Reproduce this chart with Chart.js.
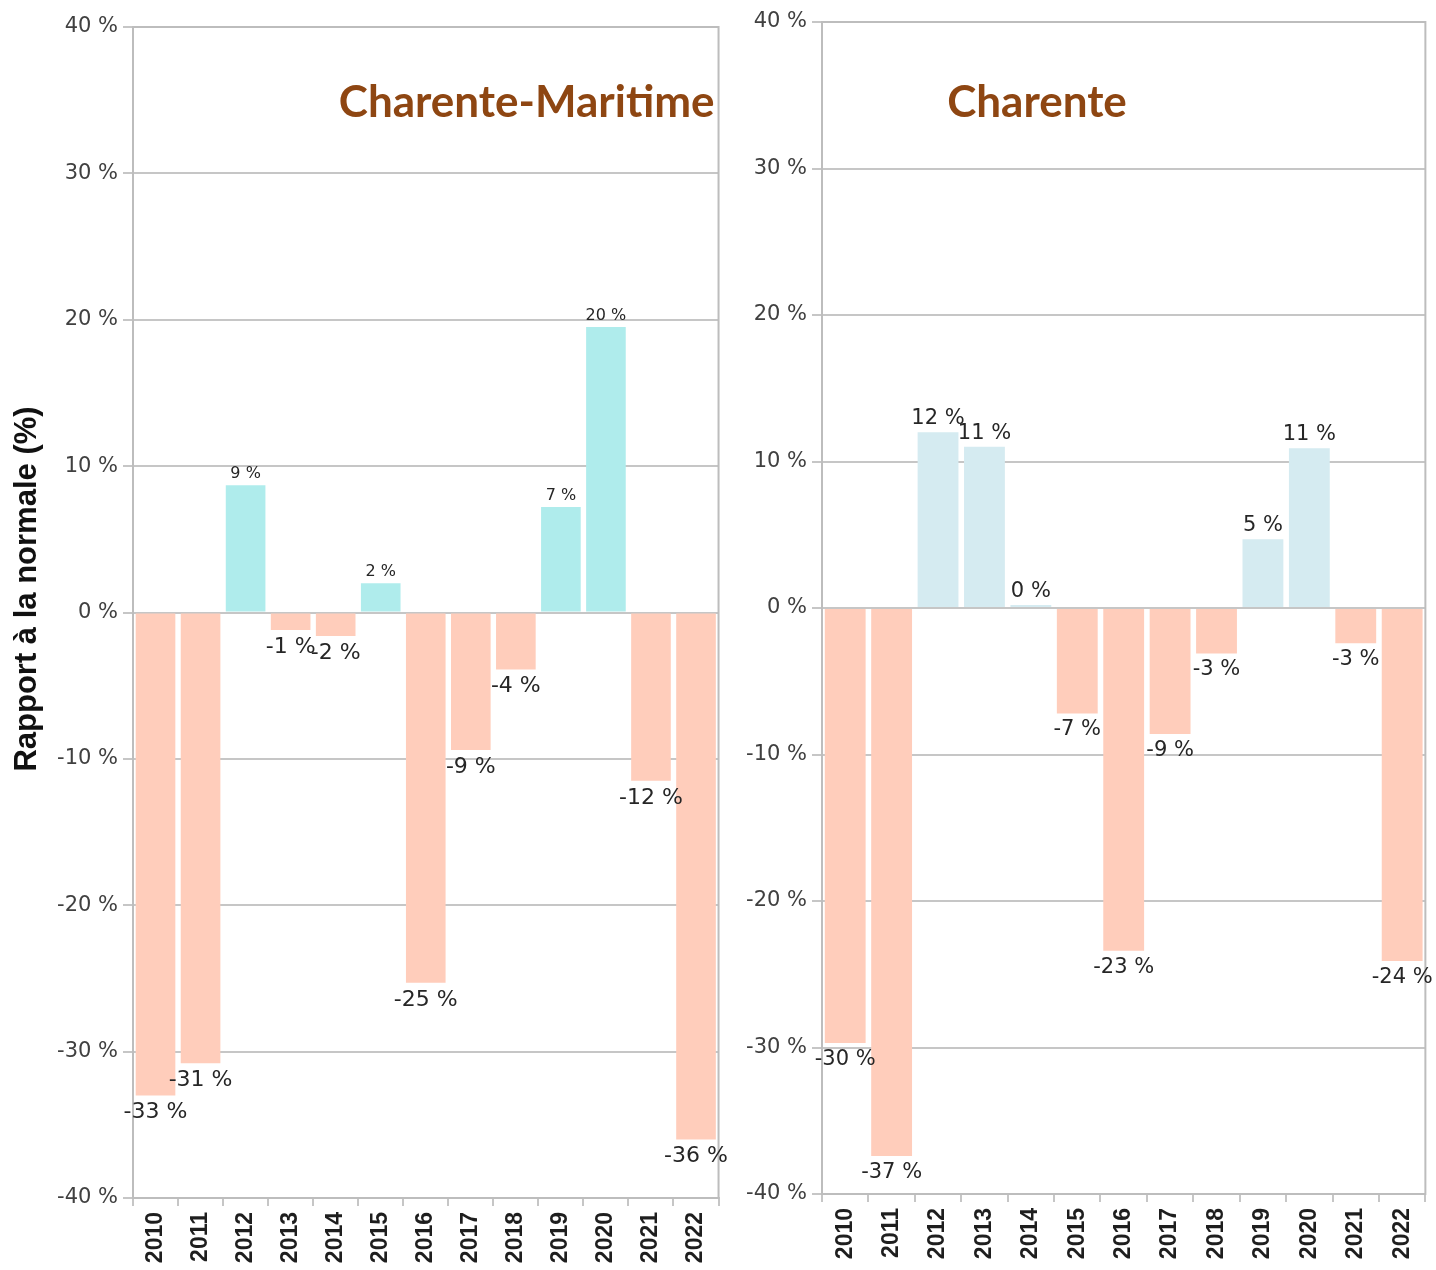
<!DOCTYPE html>
<html>
<head>
<meta charset="utf-8">
<script src="https://cdn.jsdelivr.net/npm/chart.js@4.4.1/dist/chart.umd.min.js"></script>
<style>
  body { margin: 0; background: #fff; }
  #left-box { position: absolute; left: 0; top: 0; width: 730px; height: 1270px; }
  #right-box { position: absolute; left: 730px; top: 0; width: 706px; height: 1270px; }
</style>
</head>
<body>
<div id="left-box"><canvas id="chart-cm"></canvas></div>
<div id="right-box"><canvas id="chart-ch"></canvas></div>
<script>
//data
const years = ['2010','2011','2012','2013','2014','2015','2016','2017','2018','2019','2020','2021','2022'];
const cmValues = [-33.0, -30.8, 8.7, -1.2, -1.6, 2.0, -25.3, -9.4, -3.9, 7.2, 19.5, -11.5, -36.0];
const cmLabels = ['-33 %','-31 %','9 %','-1 %','-2 %','2 %','-25 %','-9 %','-4 %','7 %','20 %','-12 %','-36 %'];
const chValues = [-29.7, -37.4, 12.0, 11.0, 0.2, -7.2, -23.4, -8.6, -3.1, 4.7, 10.9, -2.4, -24.1];
const chLabels = ['-30 %','-37 %','12 %','11 %','0 %','-7 %','-23 %','-9 %','-3 %','5 %','11 %','-3 %','-24 %'];
const yTicks = [-40, -30, -20, -10, 0, 10, 20, 30, 40];

const gridGrey = '#c6c6c6';
const salmon = '#ffcdbb';

//draws the frame round the plot, the value labels, the department name and the y title
const decorPlugin = {
    id: 'decor',
    afterDatasetsDraw(chart, args, opts) {
        const ctx = chart.ctx;
        const area = chart.chartArea;
        ctx.save();
        ctx.strokeStyle = '#bdbdbd';
        ctx.lineWidth = 2;
        ctx.strokeRect(area.left, area.top, area.right - area.left, area.bottom - area.top);
        const meta = chart.getDatasetMeta(0);
        const vals = chart.data.datasets[0].data;
        meta.data.forEach(function(bar, i) {
            ctx.fillStyle = '#262626';
            ctx.textAlign = 'center';
            if (vals[i] >= 0) {
                ctx.font = opts.posFont;
                ctx.textBaseline = 'bottom';
                ctx.fillText(opts.labels[i], bar.x, bar.y - 3);
            } else {
                ctx.font = opts.negFont;
                ctx.textBaseline = 'top';
                ctx.fillText(opts.labels[i], bar.x, bar.y + 6);
            }
        });
        ctx.font = 'bold 44px Lato';
        ctx.fillStyle = '#8e4612';
        ctx.textBaseline = 'middle';
        ctx.textAlign = opts.titleAlign;
        const tx = opts.titleAlign === 'right' ? area.right + opts.titleX : area.left + opts.titleX;
        ctx.fillText(opts.title, tx, 103);
        if (opts.yTitle) { //side title, a bit above the middle of the plot like the original
            ctx.translate(27, 589);
            ctx.rotate(-Math.PI / 2);
            ctx.font = 'bold 31px "Liberation Sans"';
            ctx.fillStyle = '#111';
            ctx.textAlign = 'center';
            ctx.fillText(opts.yTitle, 0, 0);
        }
        ctx.restore();
    }
};

function makeChart(canvasId, values, labels, posColour, cfg) {
    return new Chart(document.getElementById(canvasId).getContext('2d'), {
        type: 'bar',
        data: {
            labels: years,
            datasets: [{
                data: values,
                backgroundColor: function(c) { return values[c.dataIndex] >= 0 ? posColour : salmon; },
                borderWidth: 0,
                categoryPercentage: 0.88,
                barPercentage: 1
            }]
        },
        options: {
            responsive: true,
            maintainAspectRatio: false,
            animation: false,
            layout: { padding: { top: cfg.top, right: cfg.right, left: 0, bottom: 0 } },
            plugins: {
                legend: { display: false },
                tooltip: { enabled: false },
                decor: {
                    labels: labels,
                    posFont: cfg.posFont,
                    negFont: cfg.negFont,
                    title: cfg.title,
                    titleAlign: cfg.titleAlign,
                    titleX: cfg.titleX,
                    yTitle: cfg.yTitle
                }
            },
            scales: {
                x: {
                    grid: { display: true, drawOnChartArea: false, drawTicks: true, tickLength: 8, color: gridGrey, lineWidth: 2 },
                    border: { color: gridGrey, width: 2 },
                    ticks: {
                        minRotation: 90, maxRotation: 90, padding: 6,
                        color: '#1e1e1e',
                        font: { family: 'Liberation Sans', size: 23, weight: 'bold' }
                    },
                    afterFit: function(scale) { scale.height = cfg.xHeight; }
                },
                y: {
                    min: -40, max: 40,
                    afterBuildTicks: function(scale) { scale.ticks = yTicks.map(function(v) { return { value: v }; }); },
                    grid: { color: gridGrey, lineWidth: 2, tickLength: 10 },
                    border: { color: gridGrey, width: 2 },
                    ticks: {
                        padding: 5,
                        color: '#404040',
                        font: { family: 'DejaVu Sans', size: 21 },
                        callback: function(v) { return v + ' %'; }
                    },
                    afterFit: function(scale) { scale.width = cfg.yWidth; }
                }
            }
        },
        plugins: [decorPlugin]
    });
}

makeChart('chart-cm', cmValues, cmLabels, '#afecec', {
    top: 27, right: 10, xHeight: 72, yWidth: 133,
    posFont: '16px "DejaVu Sans"', negFont: '22px "DejaVu Sans"',
    title: 'Charente-Maritime', titleAlign: 'right', titleX: -4,
    yTitle: 'Rapport à la normale (%)'
});

makeChart('chart-ch', chValues, chLabels, '#d5ebf1', {
    top: 22, right: 6, xHeight: 76, yWidth: 92,
    posFont: '21px "DejaVu Sans"', negFont: '21px "DejaVu Sans"',
    title: 'Charente', titleAlign: 'center', titleX: 215,
    yTitle: ''
});
</script>
</body>
</html>
